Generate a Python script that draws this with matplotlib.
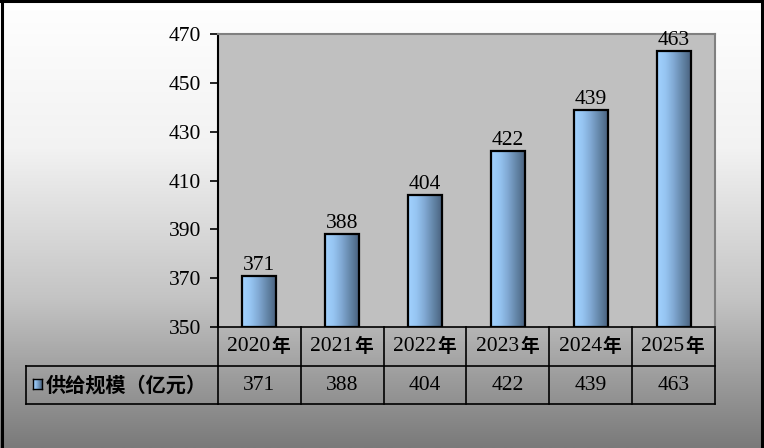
import numpy as np
import matplotlib
matplotlib.use("Agg")
import matplotlib.pyplot as plt
from matplotlib.colors import LinearSegmentedColormap
from matplotlib.patches import Rectangle
from matplotlib.lines import Line2D
import matplotlib.transforms as mtransforms

years = ["2020", "2021", "2022", "2023", "2024", "2025"]
values = [371, 388, 404, 422, 439, 463]
series_name = "供给规模（亿元）"
y_ticks = [350, 370, 390, 410, 430, 450, 470]

SERIF = ["Liberation Serif", "DejaVu Serif"]
CJK = ["Noto Sans CJK SC", "DejaVu Sans"]
FS = 15.5

W, H = 764, 448
fig = plt.figure(figsize=(W / 100, H / 100), dpi=100)

# background gradient
bg = fig.add_axes([0, 0, 1, 1], zorder=-10)
bg_cmap = LinearSegmentedColormap.from_list("bg", ["#ffffff", "#f2f2f2", "#c4c4c4", "#7a7a7a"])
grad = np.linspace(0, 1, 256).reshape(-1, 1)
bg.imshow(grad, aspect="auto", cmap=bg_cmap, extent=[0, 1, 0, 1], origin="upper")
bg.set_xlim(0, 1)
bg.set_ylim(0, 1)
bg.axis("off")
for xs, ys in [([0.002, 0.002], [0, 1]), ([0, 1], [0.997, 0.997]), ([0.998, 0.998], [0, 1])]:
    bg.add_line(Line2D(xs, ys, color="black", linewidth=2.2, transform=bg.transAxes, clip_on=False))

left, right, top, bottom = 218, 715, 34, 327
ax = fig.add_axes([left / W, 1 - bottom / H, (right - left) / W, (bottom - top) / H])
ax.set_facecolor("#c0c0c0")
n = len(years)
x = np.arange(n)

bar_cmap = LinearSegmentedColormap.from_list(
    "bar", ["#a2d2ff", "#96c5f2", "#80a8d2", "#6486a8", "#4a6380"])
hgrad = np.linspace(0, 1, 128).reshape(1, -1)
bw = 0.41
for xi, v in zip(x, values):
    ax.imshow(hgrad, aspect="auto", cmap=bar_cmap,
              extent=[xi - bw / 2, xi + bw / 2, 350, v], zorder=2)
    ax.add_patch(Rectangle((xi - bw / 2, 350), bw, v - 350, fill=False,
                           edgecolor="black", linewidth=1.6, zorder=3))
    ax.text(xi, v + 0.4, str(v), ha="center", va="bottom",
            fontsize=FS, family=SERIF, zorder=4, clip_on=False)
ax.set_xlim(-0.5, n - 0.5)
ax.set_ylim(350, 470)

ax.set_yticks(y_ticks)
ax.set_yticklabels([str(t) for t in y_ticks], fontsize=FS, family=SERIF)
ax.tick_params(axis="y", direction="out", length=6, width=1.2, pad=6)
ax.set_xticks([])
for s in ["top", "right"]:
    ax.spines[s].set_color("#808080")
    ax.spines[s].set_linewidth(1.5)
ax.spines["left"].set_color("black")
ax.spines["left"].set_linewidth(1.5)
ax.spines["bottom"].set_color("black")
ax.spines["bottom"].set_linewidth(1.2)

# data table
ah = bottom - top
r1 = -(366 - bottom) / ah
r2 = -(404 - bottom) / ah
trans = mtransforms.blended_transform_factory(ax.transData, ax.transAxes)
lx = (26 - left) / (right - left)
lines = []
lines.append(Line2D([-0.5, n - 0.5], [r1, r1], transform=trans))
lines.append(Line2D([-0.5, n - 0.5], [r2, r2], transform=trans))
lines.append(Line2D([lx, 0], [r1, r1], transform=ax.transAxes))
lines.append(Line2D([lx, 0], [r2, r2], transform=ax.transAxes))
lines.append(Line2D([lx, lx], [r1, r2], transform=ax.transAxes))
for b in np.arange(-0.5, n, 1.0):
    lines.append(Line2D([b, b], [0, r2], transform=trans))
for ln in lines:
    ln.set_color("black")
    ln.set_linewidth(1.2)
    ln.set_clip_on(False)
    ax.add_line(ln)

for xi, yr, v in zip(x, years, values):
    ax.annotate(yr, xy=(xi, (0 + r1) / 2), xycoords=trans,
                xytext=(11 * 0.72, 0), textcoords="offset points",
                ha="right", va="center", fontsize=FS, family=SERIF,
                annotation_clip=False)
    ax.annotate("年", xy=(xi, (0 + r1) / 2), xycoords=trans,
                xytext=(12 * 0.72, 0), textcoords="offset points",
                ha="left", va="center", fontsize=13.5, family=CJK, fontweight="bold",
                annotation_clip=False)
    ax.text(xi, (r1 + r2) / 2, str(v), transform=trans, ha="center", va="center",
            fontsize=FS, family=SERIF, clip_on=False)

# legend key and row label
kx0, kx1 = 33 / W, 42 / W
ky0, ky1 = 1 - 389 / H, 1 - 379 / H
kax = fig.add_axes([kx0, ky0, kx1 - kx0, ky1 - ky0])
kax.imshow(hgrad, aspect="auto", cmap=bar_cmap, extent=[0, 1, 0, 1])
kax.set_xticks([])
kax.set_yticks([])
for s in kax.spines.values():
    s.set_linewidth(1.0)
fig.text(46 / W, 1 - 385 / H, series_name, ha="left", va="center",
         fontsize=14.5, family=CJK, fontweight="bold")

fig.savefig("out.png", dpi=100)
